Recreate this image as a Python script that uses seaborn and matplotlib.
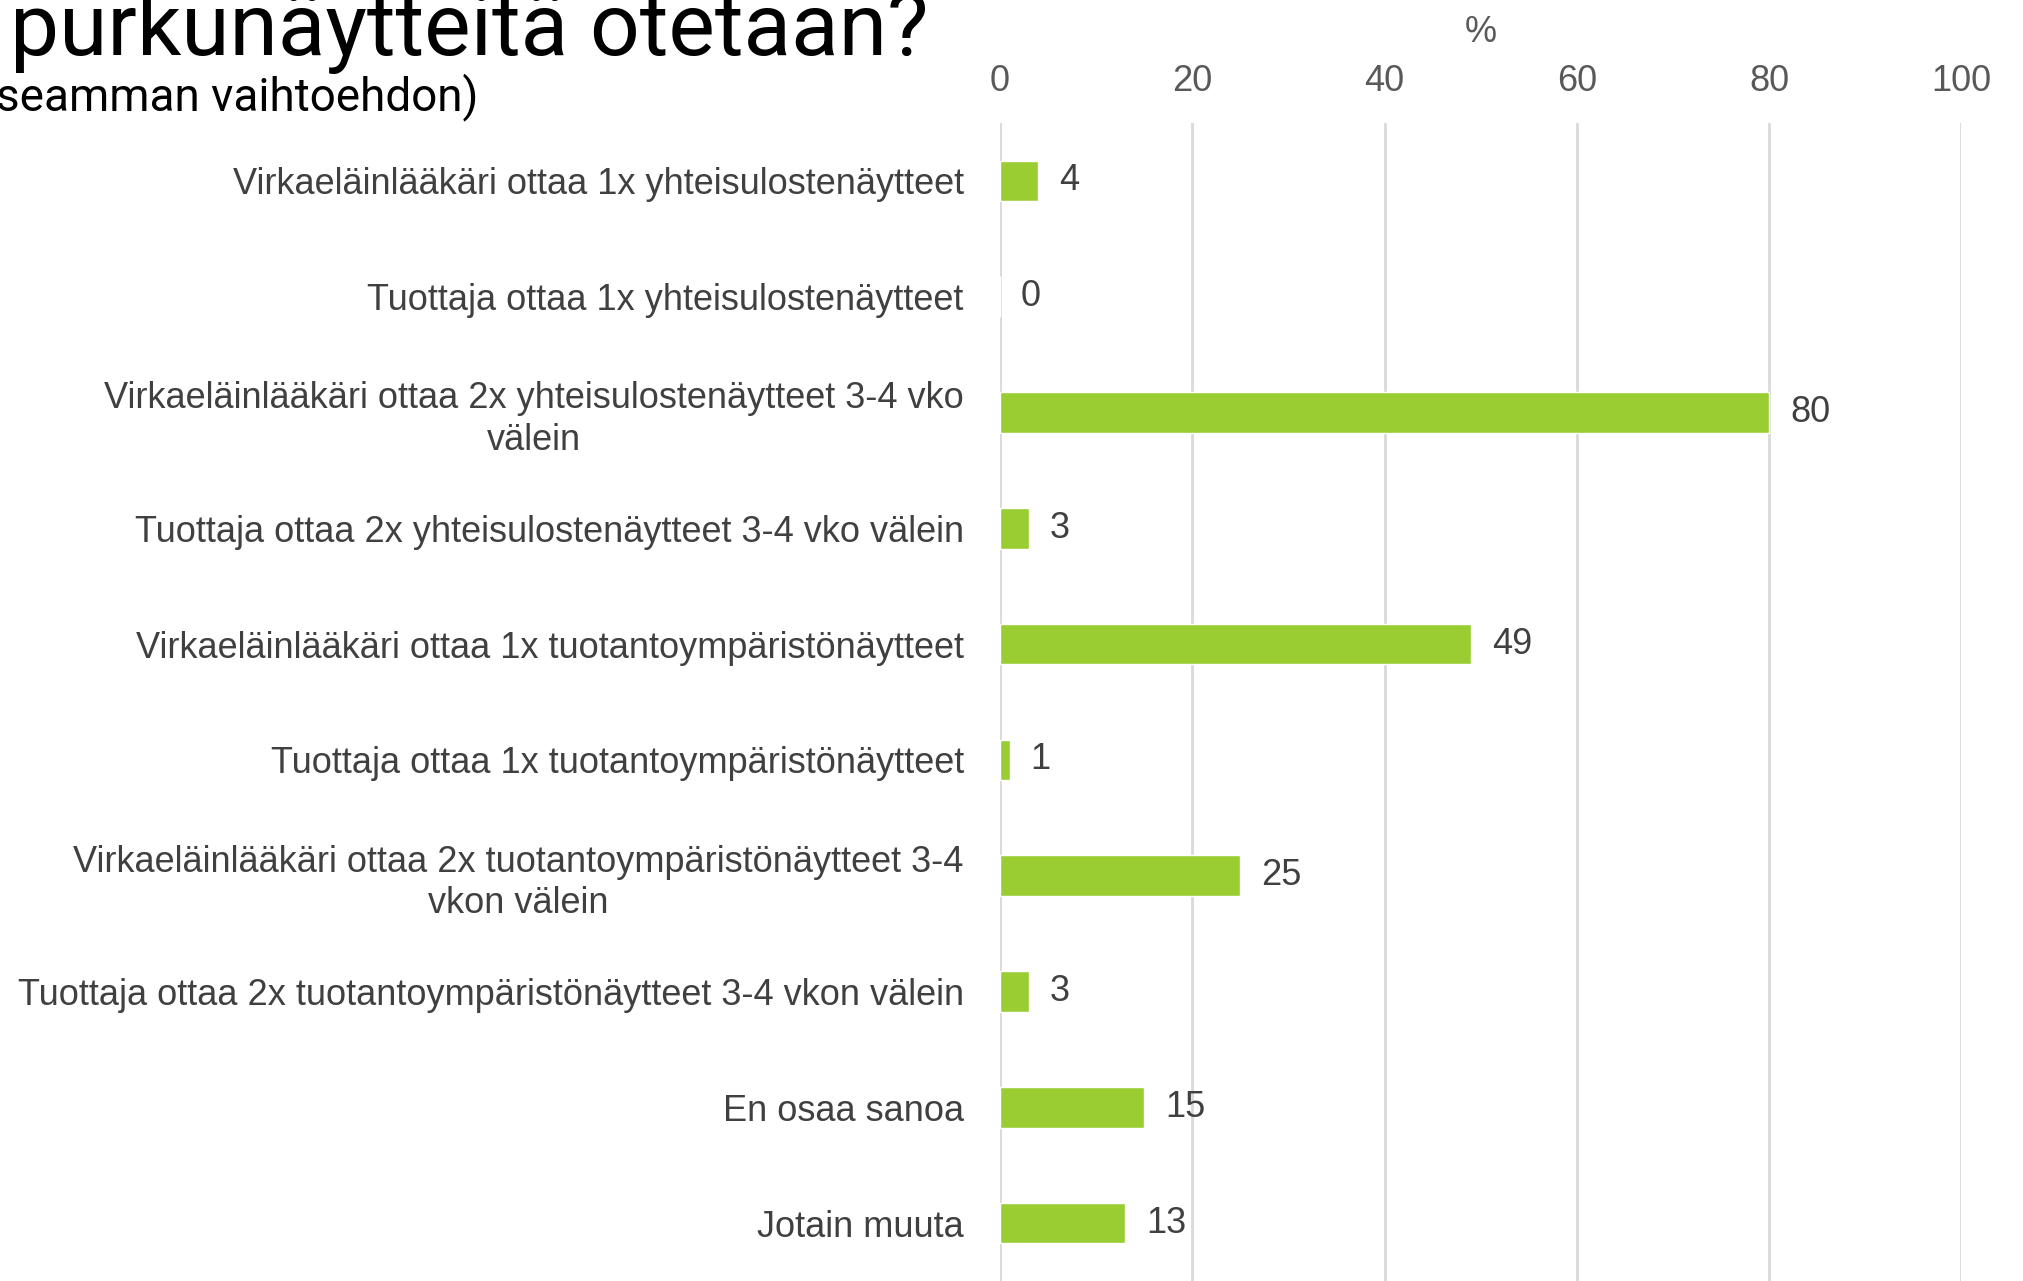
import matplotlib
matplotlib.use("Agg")
import matplotlib.pyplot as plt
import seaborn as sns
import pandas as pd

categories = [
    "Virkaeläinlääkäri ottaa 1x yhteisulostenäytteet",
    "Tuottaja ottaa 1x yhteisulostenäytteet",
    "Virkaeläinlääkäri ottaa 2x yhteisulostenäytteet 3-4 vko\nvälein",
    "Tuottaja ottaa 2x yhteisulostenäytteet 3-4 vko välein",
    "Virkaeläinlääkäri ottaa 1x tuotantoympäristönäytteet",
    "Tuottaja ottaa 1x tuotantoympäristönäytteet",
    "Virkaeläinlääkäri ottaa 2x tuotantoympäristönäytteet 3-4\nvkon välein",
    "Tuottaja ottaa 2x tuotantoympäristönäytteet 3-4 vkon välein",
    "En osaa sanoa",
    "Jotain muuta",
]
values = [4, 0, 80, 3, 49, 1, 25, 3, 15, 13]
x_ticks = [0, 20, 40, 60, 80, 100]

title_text = "purkunäytteitä otetaan?"
subtitle_text = "seamman vaihtoehdon)"

sns.set_theme(style="white")
plt.rcParams["font.family"] = ["Liberation Sans", "DejaVu Sans"]

df = pd.DataFrame({"label": categories, "pct": values})

fig = plt.figure(figsize=(20.23, 12.81), dpi=100)
ax = fig.add_axes([0.4943, 0.0, 0.4752, 0.904])

sns.barplot(data=df, x="pct", y="label", orient="h", color="#9ACD32",
            width=0.35, saturation=1, ax=ax)

ax.set_xlim(0, 100)
ax.set_ylim(9.5, -0.5)
ax.set_xticks(x_ticks)
ax.xaxis.tick_top()
ax.xaxis.set_label_position("top")
ax.tick_params(axis="x", length=0, pad=17, labelsize=26, labelcolor="#595959")
ax.tick_params(axis="y", length=0, pad=26, labelsize=26, labelcolor="#404040")
ax.set_xlabel("%", fontsize=26, color="#595959", labelpad=16)
ax.set_ylabel("")
for t in ax.get_yticklabels():
    t.set_multialignment("center")
    t.set_linespacing(1.25)

ax.grid(axis="x", color="#D9D9D9", linewidth=2)
ax.set_axisbelow(True)
for s in ax.spines.values():
    s.set_visible(False)

for i, v in enumerate(values):
    ax.text(v + 2.2, i, str(v), va="center", ha="left", fontsize=26, color="#404040")

fig.text(0.005, 1 - 55 / 1281, title_text, fontsize=63, color="black",
         va="baseline", ha="left", family=["Roboto", "DejaVu Sans"])
fig.text(-0.002, 1 - 110 / 1281, subtitle_text, fontsize=33, color="black",
         va="baseline", ha="left", family=["Roboto", "DejaVu Sans"])

fig.savefig("out.png", dpi=100)
